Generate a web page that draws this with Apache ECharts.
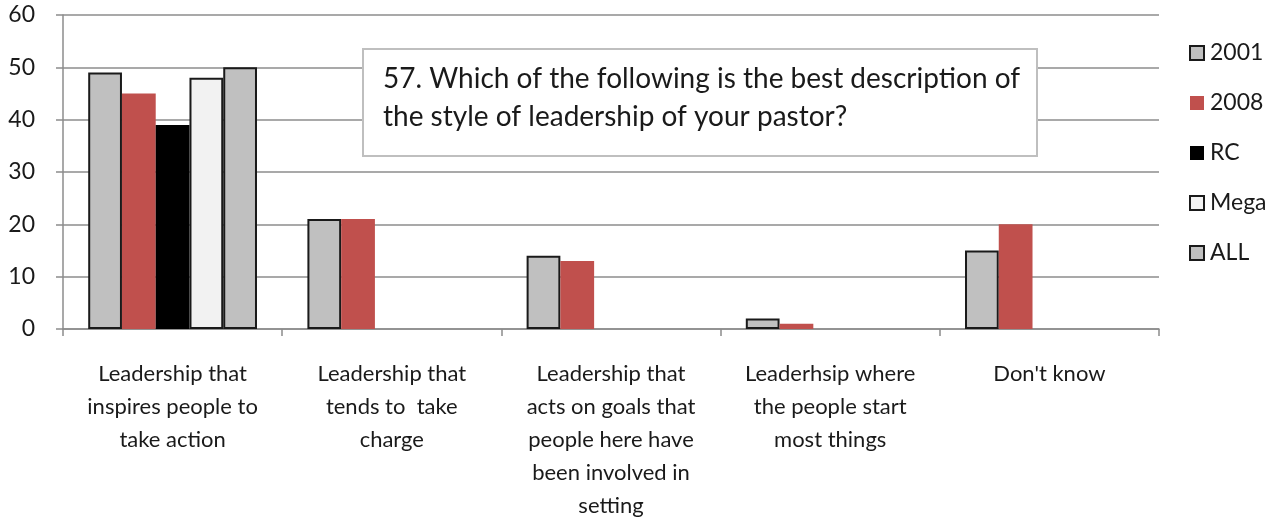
<!DOCTYPE html>
<html>
<head>
<meta charset="utf-8">
<script src="https://cdn.jsdelivr.net/npm/echarts@6/dist/echarts.min.js"></script>
<style>
  html, body { margin: 0; padding: 0; background: #fff; }
  #chart { width: 1285px; height: 522px; }
</style>
</head>
<body>
<div id="chart"></div>
<script>
// Survey question and answer categories
const questionText = '57. Which of the following is the best description of\nthe style of leadership of your pastor?';
const categories = [
  'Leadership that\ninspires people to\ntake action',
  'Leadership that\ntends to  take\ncharge',
  'Leadership that\nacts on goals that\npeople here have\nbeen involved in\nsetting',
  'Leaderhsip where\nthe people start\nmost things',
  "Don't know"
];
const seriesNames = ['2001', '2008', 'RC', 'Mega', 'ALL'];
// Percent responses per group
const values2001 = [49, 21, 14, 2, 15];
const values2008 = [45, 21, 13, 1, 20];
const valuesRC   = [39, null, null, null, null];
const valuesMega = [48, null, null, null, null];
const valuesALL  = [50, null, null, null, null];
const yTicks = { min: 0, max: 60, interval: 10 };

const FONT = 'Lato';
const TEXT = '#1a1a1a';

const styles = [
  { color: '#C0C0C0', borderColor: '#1a1a1a', borderWidth: 2 },
  { color: '#C0504D', borderWidth: 0 },
  { color: '#000000', borderWidth: 0 },
  { color: '#F2F2F2', borderColor: '#1a1a1a', borderWidth: 2 },
  { color: '#C0C0C0', borderColor: '#1a1a1a', borderWidth: 2 }
];
const dataSets = [values2001, values2008, valuesRC, valuesMega, valuesALL];

const chart = echarts.init(document.getElementById('chart'), null, { renderer: 'canvas' });
chart.setOption({
  animation: false,
  backgroundColor: '#ffffff',
  grid: { left: 63, right: 126, top: 15, bottom: 193, containLabel: false },
  legend: {
    orient: 'vertical',
    left: 1184,
    top: 34,
    icon: 'rect',
    itemWidth: 14,
    itemHeight: 14,
    itemGap: 22,
    textStyle: { fontFamily: FONT, fontSize: 23, color: TEXT, padding: [0, 0, 0, 1], lineHeight: 28 },
    data: seriesNames
  },
  xAxis: {
    type: 'category',
    data: categories,
    axisLine: { lineStyle: { color: '#8c8c8c', width: 1.5 } },
    axisTick: { show: true, length: 7, lineStyle: { color: '#8c8c8c', width: 1.5 } },
    axisLabel: {
      interval: 0,
      margin: 28,
      fontFamily: FONT,
      fontSize: 22,
      lineHeight: 33,
      color: TEXT,
      align: 'center',
      verticalAlign: 'top'
    }
  },
  yAxis: {
    type: 'value',
    min: yTicks.min,
    max: yTicks.max,
    interval: yTicks.interval,
    axisLine: { show: true, lineStyle: { color: '#8c8c8c', width: 1.5 } },
    axisTick: { show: true, length: 7, lineStyle: { color: '#8c8c8c', width: 1.5 } },
    splitLine: { lineStyle: { color: '#8c8c8c', width: 1.5 } },
    axisLabel: { margin: 28, fontFamily: FONT, fontSize: 23, color: TEXT }
  },
  series: seriesNames.map((name, i) => ({
    name,
    type: 'bar',
    data: dataSets[i],
    barGap: '0%',
    barCategoryGap: '23%',
    itemStyle: styles[i]
  })),
  graphic: [
    {
      type: 'rect',
      left: 362,
      top: 48,
      z: 100,
      shape: { width: 674, height: 107 },
      style: { fill: '#ffffff', stroke: '#BFBFBF', lineWidth: 2 }
    },
    {
      type: 'text',
      left: 383,
      top: 60,
      z: 101,
      style: {
        text: questionText,
        font: '28px Lato',
        fill: TEXT,
        lineHeight: 38
      }
    }
  ]
});
</script>
</body>
</html>
